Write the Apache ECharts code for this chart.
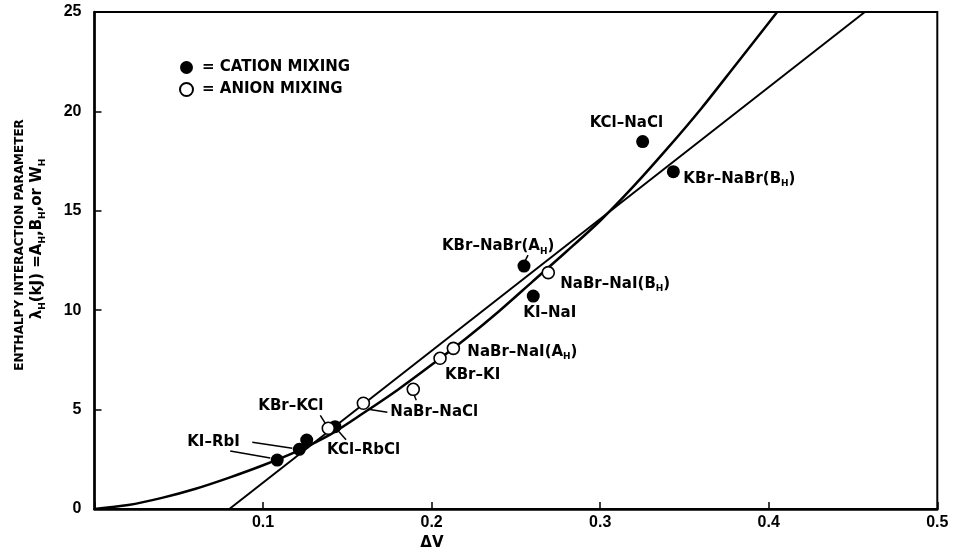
<!DOCTYPE html>
<html><head><meta charset="utf-8">
<script src="https://cdn.jsdelivr.net/npm/echarts@6/dist/echarts.min.js"></script>
<style>html,body{margin:0;padding:0;background:#fff}#c{width:953px;height:547px}</style>
</head><body><div id="c"></div>
<script>
// ---- data ----
const xTicks = [0, 0.1, 0.2, 0.3, 0.4, 0.5];
const yTicks = [0, 5, 10, 15, 20, 25];

// filled circles = cation mixing
const cationX = [0.1084, 0.1215, 0.1259, 0.1427, 0.2548, 0.2603, 0.3252, 0.3434];
const cationY = [2.46, 3.00, 3.47, 4.14, 12.22, 10.71, 18.48, 16.97];
// open circles = anion mixing
const anionX = [0.1387, 0.1595, 0.1891, 0.2050, 0.2129, 0.2692];
const anionY = [4.06, 5.32, 6.02, 7.58, 8.08, 11.89];

// curved fit
const curveX = [0, 0.02, 0.04, 0.06, 0.08, 0.10, 0.12, 0.14, 0.16, 0.18, 0.20, 0.22, 0.24, 0.26, 0.28, 0.30, 0.32, 0.34, 0.36, 0.38, 0.405];
const curveY = [0, 0.20, 0.56, 1.02, 1.58, 2.20, 2.90, 3.75, 4.85, 6.00, 7.25, 8.55, 9.95, 11.45, 12.95, 14.50, 16.25, 18.15, 20.15, 22.30, 25.00];
// straight fit
const lineX = [0.080, 0.457];
const lineY = [0, 25];

const seriesNames = ['CATION MIXING', 'ANION MIXING'];
const xName = 'ΔV';
const yName1 = 'ENTHALPY INTERACTION PARAMETER';
const yName2 = 'λ_H(kJ) =A_H,B_H,or W_H';

// ---- styling ----
const FF = '"DejaVu Sans", "Liberation Sans", Arial, sans-serif';
const TICKF = '"Liberation Sans", Arial, sans-serif';
function rich(t){ return t.split('_H').map(p => p ? '{m|' + p + '}' : '').join('{s|H}'); }
function richStyle(size){
  return {
    m: {fontFamily: FF, fontWeight: 'bold', fontSize: size, lineHeight: size + 1, verticalAlign: 'top', color: '#000', fill: '#000'},
    s: {fontFamily: FF, fontWeight: 'bold', fontSize: Math.round(size * 0.62), lineHeight: Math.round(size * 0.62), padding: [Math.round(size * 0.62), 0, 0, 0], color: '#000', fill: '#000'}
  };
}

const option = {
  animation: false,
  backgroundColor: '#fff',
  grid: {left: 94.5, right: 15.7, top: 12, bottom: 38, show: true, borderColor: '#000', borderWidth: 2, outerBoundsMode: 'none', containLabel: false},
  legend: {
    orient: 'vertical', left: 174, top: 55, itemWidth: 13, itemHeight: 13, itemGap: 7,
    selectedMode: false,
    formatter: n => '= ' + n,
    textStyle: {fontFamily: FF, fontWeight: 'bold', fontSize: 15, color: '#000', padding: [0, 0, 0, 4]},
    data: [{name: seriesNames[0], icon: 'circle'}, {name: seriesNames[1], icon: 'circle'}]
  },
  xAxis: {
    type: 'value', min: xTicks[0], max: xTicks[xTicks.length - 1], interval: xTicks[1] - xTicks[0],
    name: xName, nameLocation: 'middle', nameGap: 18,
    nameTextStyle: {fontFamily: FF, fontWeight: 'bold', fontSize: 15, color: '#000', padding: [0, 168, 0, 0]},
    axisLine: {show: true, lineStyle: {color: '#000', width: 2.5}},
    axisTick: {show: true, inside: true, length: 7, lineStyle: {color: '#000', width: 1.5}},
    axisLabel: {margin: 6, color: '#000', fontFamily: TICKF, fontWeight: 'bold', fontSize: 16,
      formatter: v => v === 0 ? '' : v.toFixed(1)},
    splitLine: {show: false}
  },
  yAxis: {
    type: 'value', min: yTicks[0], max: yTicks[yTicks.length - 1], interval: yTicks[1] - yTicks[0],
    axisLine: {show: true, lineStyle: {color: '#000', width: 2.5}},
    axisTick: {show: true, inside: true, length: 7, lineStyle: {color: '#000', width: 1.5}},
    axisLabel: {margin: 13, color: '#000', fontFamily: TICKF, fontWeight: 'bold', fontSize: 16},
    splitLine: {show: false}
  },
  series: [
    {type: 'line', name: 'curve', data: curveX.map((x, i) => [x, curveY[i]]), smooth: 0.3, showSymbol: false,
      lineStyle: {color: '#000', width: 2.5}, silent: true, z: 2},
    {type: 'line', name: 'straight', data: lineX.map((x, i) => [x, lineY[i]]), showSymbol: false,
      lineStyle: {color: '#000', width: 2}, silent: true, z: 2},
    {type: 'scatter', name: seriesNames[0], data: cationX.map((x, i) => [x, cationY[i]]), symbol: 'circle', symbolSize: 13,
      itemStyle: {color: '#000', borderColor: '#000', borderWidth: 0, opacity: 1}, z: 5},
    {type: 'scatter', name: seriesNames[1], data: anionX.map((x, i) => [x, anionY[i]]), symbol: 'circle', symbolSize: 12,
      itemStyle: {color: '#fff', borderColor: '#000', borderWidth: 1.6, opacity: 1}, z: 6}
  ]
};

const chart = echarts.init(document.getElementById('c'), null, {renderer: 'canvas'});
chart.setOption(option);

// annotation layout: label offset (px, left / vertical centre) and leader lines relative to the point
const annotations = [
  {s: 'c', i: 0, text: 'KI–RbI', dx: -90, dy: -17.5, lines: [[-7, -2, -47, -9]]},
  {s: 'c', i: 1, text: '', dx: 0, dy: 0, lines: [[-7, -1, -47, -7]]},
  {s: 'c', i: 3, text: 'KCl–RbCl', dx: -8, dy: 23.5, lines: [[4, 5, 11, 13]]},
  {s: 'a', i: 0, text: 'KBr–KCl', dx: -70, dy: -21.5, lines: [[-3, -5, -8, -13]]},
  {s: 'a', i: 1, text: 'NaBr–NaCl', dx: 27, dy: 9, lines: [[5, 6, 24, 9]]},
  {s: 'a', i: 2, text: '', dx: 0, dy: 0, lines: [[1, 6, 3, 11]]},
  {s: 'a', i: 3, text: 'KBr–KI', dx: 5, dy: 17, lines: []},
  {s: 'a', i: 4, text: 'NaBr–NaI(A_H)', dx: 14, dy: 4, lines: []},
  {s: 'c', i: 4, text: 'KBr–NaBr(A_H)', dx: -82, dy: -19, lines: [[1, -5, 4, -11]]},
  {s: 'a', i: 5, text: 'NaBr–NaI(B_H)', dx: 12, dy: 12, lines: []},
  {s: 'c', i: 5, text: 'KI–NaI', dx: -10, dy: 18, lines: []},
  {s: 'c', i: 6, text: 'KCl–NaCl', dx: -53, dy: -18.5, lines: []},
  {s: 'c', i: 7, text: 'KBr–NaBr(B_H)', dx: 10, dy: 8, lines: []}
];

const g = [];
annotations.forEach(a => {
  const xs = a.s === 'c' ? cationX : anionX;
  const ys = a.s === 'c' ? cationY : anionY;
  const p = chart.convertToPixel({gridIndex: 0}, [xs[a.i], ys[a.i]]);
  if (a.text) {
    g.push({type: 'text', x: p[0] + a.dx, y: p[1] + a.dy - 8, z: 100,
      style: {text: rich(a.text), rich: richStyle(15), align: 'left', verticalAlign: 'top',
        fontFamily: FF, fontWeight: 'bold', fontSize: 15, fill: '#000'}});
  }
  a.lines.forEach(l => g.push({type: 'line', z: 90,
    shape: {x1: p[0] + l[0], y1: p[1] + l[1], x2: p[0] + l[2], y2: p[1] + l[3]},
    style: {stroke: '#000', lineWidth: 1.5}}));
});
// y axis title (two rotated lines)
g.push({type: 'text', x: 20, y: 245, rotation: Math.PI / 2, z: 100,
  style: {text: '{m|' + yName1 + '}', rich: richStyle(12), align: 'center', verticalAlign: 'middle',
    fontFamily: FF, fontWeight: 'bold', fontSize: 12, fill: '#000'}});
g.push({type: 'text', x: 38, y: 239, rotation: Math.PI / 2, z: 100,
  style: {text: rich(yName2), rich: richStyle(15), align: 'center', verticalAlign: 'middle',
    fontFamily: FF, fontWeight: 'bold', fontSize: 15, fill: '#000'}});
chart.setOption({graphic: g});
</script>
</body></html>
